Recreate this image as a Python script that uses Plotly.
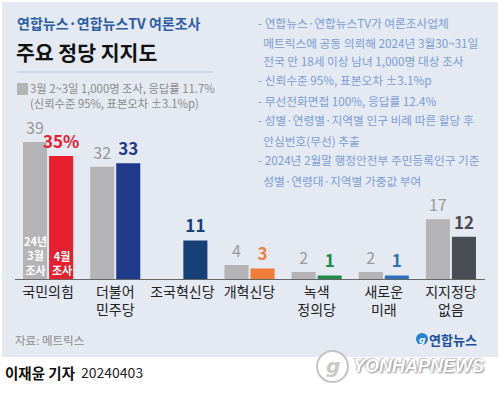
import plotly.graph_objects as go

W, H = 500, 396

categories = ["국민의힘", "더불어<br>민주당", "조국혁신당", "개혁신당", "녹색<br>정의당", "새로운<br>미래", "지지정당<br>없음"]
march_values = [39, 32, None, 4, 2, 2, 17]
april_values = [35, 33, 11, 3, 1, 1, 12]
april_labels = ["35%", "33", "11", "3", "1", "1", "12"]
april_colors = ["#e8202e", "#1f3a8a", "#173f78", "#ef7d38", "#1f8a4a", "#2f70b8", "#4a4d53"]
march_color = "#b4b4b6"

subtitle = "연합뉴스·연합뉴스TV 여론조사"
title = "주요 정당 지지도"
legend_lines = ["3월 2~3일 1,000명 조사, 응답률 11.7%", "(신뢰수준 95%, 표본오차 ±3.1%p)"]
notes = [
    "- 연합뉴스·연합뉴스TV가 여론조사업체",
    "  메트릭스에 공동 의뢰해 2024년 3월30~31일",
    "  전국 만 18세 이상 남녀 1,000명 대상 조사",
    "- 신뢰수준 95%, 표본오차 ±3.1%p",
    "- 무선전화면접 100%, 응답률 12.4%",
    "- 성별·연령별·지역별 인구 비례 따른 할당 후",
    "  안심번호(무선) 추출",
    "- 2024년 2월말 행정안전부 주민등록인구 기준",
    "  성별·연령대·지역별 가중값 부여",
]
march_inside = "24년<br>3월<br>조사"
april_inside = "4월<br>조사"
source = "자료: 메트릭스"
byline = "이재윤 기자"
date_text = "20240403"

FONT = "Noto Sans CJK KR"


def px(x):
    return x / W


def py(y):
    return 1 - y / H


fig = go.Figure()

fig.add_trace(go.Bar(
    x=categories, y=march_values,
    marker=dict(color=march_color, line=dict(width=0)),
    offset=-0.373, width=0.358,
    text=[("" if v is None else str(v)) for v in march_values],
    textposition="outside", constraintext="none",
    textfont=dict(family=FONT, size=16, color="#9a9a9c"),
    cliponaxis=False, hoverinfo="skip",
))
fig.add_trace(go.Bar(
    x=categories, y=april_values,
    marker=dict(color=april_colors, line=dict(width=0)),
    offset=0.015, width=0.358,
    text=april_labels,
    textposition="outside", constraintext="none",
    textfont=dict(family=FONT, size=17, color=april_colors, weight="bold"),
    cliponaxis=False, hoverinfo="skip",
))

shapes = [
    dict(type="rect", xref="paper", yref="paper", x0=px(2), x1=px(498), y0=py(357), y1=py(2),
         fillcolor="#e4e9f2", line=dict(width=0), layer="below"),
    dict(type="line", xref="paper", yref="paper", x0=px(17), x1=px(213), y0=py(72), y1=py(72),
         line=dict(color="#b9c5da", width=1)),
    dict(type="rect", xref="paper", yref="paper", x0=px(17), x1=px(28), y0=py(95), y1=py(83),
         fillcolor=march_color, line=dict(width=0)),
    # logo circle
    dict(type="circle", xref="paper", yref="paper", x0=px(416), x1=px(428), y0=py(345), y1=py(333),
         fillcolor="#2a7fd4", line=dict(width=0)),
    # watermark circle
    dict(type="circle", xref="paper", yref="paper", x0=px(317), x1=px(348), y0=py(382), y1=py(351),
         fillcolor="rgba(255,255,255,0.95)", line=dict(color="#c4c4c4", width=2)),
]

ann = []


def text(x, y, s, size, color, weight="normal", anchor="left", yanchor="middle", **kw):
    ann.append(dict(xref="paper", yref="paper", x=px(x), y=py(y), text=s, showarrow=False,
                    xanchor=anchor, yanchor=yanchor,
                    font=dict(family=FONT, size=size, color=color, weight=weight, **kw)))


text(15, 23, subtitle, 14, "#2d5ca8", "bold")
text(14, 52, title, 20.5, "#111111", "bold")
text(28, 88, legend_lines[0], 11.3, "#8a8a8a")
text(28, 103, legend_lines[1], 11.3, "#8a8a8a")

note_y = [23, 43, 61, 80, 100, 120, 140, 160, 180]
for s, yy in zip(notes, note_y):
    text(256, yy, s.replace("  ", "&nbsp;&nbsp;"), 11.7, "#7a9dd2")

text(13, 340, source, 11.5, "#8c8c8c")
text(427, 339, "연합뉴스", 13, "#1d4f9e", "bold")
text(3, 372, byline, 14.5, "#111111", "bold")
text(79, 372, date_text, 14, "#222222")
ann.append(dict(xref="paper", yref="paper", x=px(351), y=py(366), text="<i>YONHAPNEWS</i>", showarrow=False,
                xanchor="left", yanchor="middle",
                font=dict(family="Liberation Sans", size=18, color="#ffffff", weight="bold",
                          shadow="1px 1px 2px #8a8a8a, -1px -1px 1px #c0c0c0")))
ann.append(dict(xref="paper", yref="paper", x=px(332.5), y=py(366), text="<i><b>g</b></i>", showarrow=False,
                xanchor="center", yanchor="middle",
                font=dict(family="DejaVu Sans", size=20, color="#c8c8c8")))
ann.append(dict(xref="paper", yref="paper", x=px(422), y=py(339.5), text="<i><b>g</b></i>", showarrow=False,
                xanchor="center", yanchor="middle",
                font=dict(family="DejaVu Sans", size=9, color="#ffffff")))

# inside-bar labels (first group)
ann.append(dict(xref="x", yref="y", x=categories[0], y=0, xshift=-12.5, yshift=0,
                yanchor="bottom", xanchor="center", showarrow=False, text=march_inside,
                borderpad=0, font=dict(family=FONT, size=11, color="#ffffff", weight="bold")))
ann.append(dict(xref="x", yref="y", x=categories[0], y=0, xshift=13.5, yshift=0,
                yanchor="bottom", xanchor="center", showarrow=False, text=april_inside,
                borderpad=0, font=dict(family=FONT, size=11, color="#ffffff", weight="bold")))

fig.update_layout(
    width=W, height=H, margin=dict(l=0, r=0, t=0, b=0),
    paper_bgcolor="#ffffff", plot_bgcolor="rgba(0,0,0,0)",
    showlegend=False, barmode="overlay",
    shapes=shapes, annotations=ann,
    xaxis=dict(domain=[px(14.5), px(484.5)], type="category", range=[-0.5, 6.5],
               showgrid=False, zeroline=False,
               showline=True, linecolor="#666666", linewidth=1, ticks="",
               tickfont=dict(family=FONT, size=14, color="#222222"), fixedrange=True),
    yaxis=dict(domain=[py(279), py(121)], range=[0, 45], showgrid=False, zeroline=False,
               showticklabels=False, showline=False, fixedrange=True),
)

fig.write_html("out.html", config={"displayModeBar": False, "staticPlot": True},
               post_script="document.body.style.margin='0';")
